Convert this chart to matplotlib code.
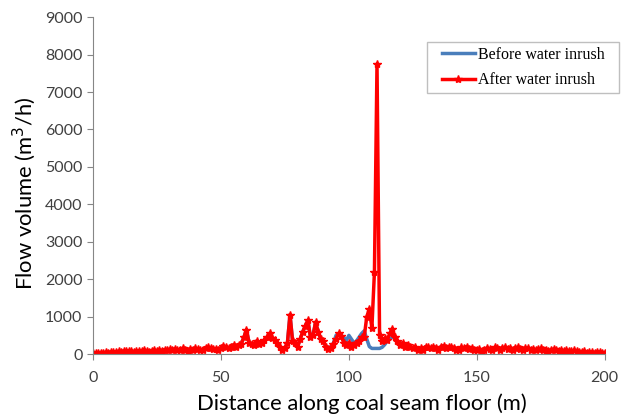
import matplotlib
matplotlib.use('Agg')
import matplotlib.pyplot as plt
from matplotlib.patches import Rectangle
import numpy as np

# distance along coal seam floor (m), one point per metre
distance = np.arange(0, 201)

# flow volume after water inrush (m3/h)
after = [
    20, 30, 25, 40, 30, 45, 40, 55, 50, 60,
    70, 60, 80, 70, 90, 80, 60, 75, 90, 70,
    110, 80, 60, 90, 100, 80, 110, 90, 120, 100,
    130, 110, 140, 100, 120, 150, 110, 90, 130, 120,
    150, 140, 120, 100, 150, 180, 160, 140, 130, 100,
    170, 220, 180, 150, 200, 250, 180, 230, 280, 450,
    650, 300, 280, 250, 350, 280, 300, 380, 450, 550,
    420, 380, 300, 180, 120, 150, 300, 1050, 350, 300,
    200, 400, 600, 750, 900, 450, 500, 850, 600, 400,
    350, 200, 130, 160, 280, 400, 550, 480, 300, 250,
    300, 180, 250, 300, 350, 450, 450, 1000, 1200, 700,
    2200, 7750, 500, 350, 420, 380, 550, 680, 450, 350,
    250, 300, 200, 250, 180, 150, 200, 100, 150, 120,
    200, 180, 150, 200, 170, 120, 200, 220, 150, 180,
    200, 160, 100, 120, 180, 150, 200, 130, 160, 120,
    100, 130, 90, 120, 160, 140, 120, 180, 150, 110,
    160, 180, 140, 170, 120, 150, 180, 130, 100, 150,
    160, 120, 140, 110, 130, 150, 100, 120, 90, 110,
    130, 100, 90, 110, 80, 100, 90, 70, 100, 80,
    60, 50, 70, 40, 60, 50, 40, 60, 50, 30,
    40,
]

# before water inrush: hidden under the red line except where it differs
before_start = 92
before_mid = [
    150, 200, 300, 500, 550, 500, 450, 350, 500, 400,
    300, 350, 450, 550, 620, 400, 200, 150, 150, 150,
    150, 180, 250, 350, 400, 450,
]
before = list(after)
before[before_start:before_start + len(before_mid)] = before_mid

plt.rcParams['font.family'] = ['Lato', 'DejaVu Sans']

fig = plt.figure(figsize=(6.28, 4.18), dpi=100)
ax = fig.add_axes([0.148, 0.153, 0.815, 0.806])

ax.plot(distance, before, color='#4A7EBB', lw=2.5, label='Before water inrush')
ax.plot(distance, after, color='#FF0000', lw=2.5, marker='*', markersize=6,
        label='After water inrush')

ax.set_xlim(0, 200)
ax.set_ylim(0, 9000)
ax.set_xticks(np.arange(0, 201, 50))
ax.set_yticks(np.arange(0, 9001, 1000))

for s in ['top', 'right']:
    ax.spines[s].set_visible(False)
for s in ['left', 'bottom']:
    ax.spines[s].set_color('#868686')
ax.tick_params(axis='both', colors='#868686', labelcolor='#404040',
               labelsize=11.5, length=4, direction='out')
ax.tick_params(axis='x', pad=8)

ax.set_xlabel('Distance along coal seam floor (m)', fontsize=15.8, color='black')
ax.set_ylabel('Flow volume (m$^3$/h)', fontsize=15.8, color='black')
ax.xaxis.set_label_coords(0.525, -0.118)
ax.yaxis.set_label_coords(-0.108, 0.478)

# legend frame drawn by hand so its padding matches the original
fig.patches.append(Rectangle((0.680, 0.7775), 0.3057, 0.122,
                             transform=fig.transFigure, fill=False,
                             edgecolor='#BFBFBF', lw=1.0))
leg = ax.legend(loc='center', bbox_to_anchor=(0.8328, 0.8385),
                bbox_transform=fig.transFigure, frameon=False,
                borderaxespad=0, borderpad=0, handlelength=2.1,
                handletextpad=0.15, labelspacing=0.6,
                prop={'family': 'Liberation Serif', 'size': 11.5})

fig.savefig('out.png', dpi=100)
